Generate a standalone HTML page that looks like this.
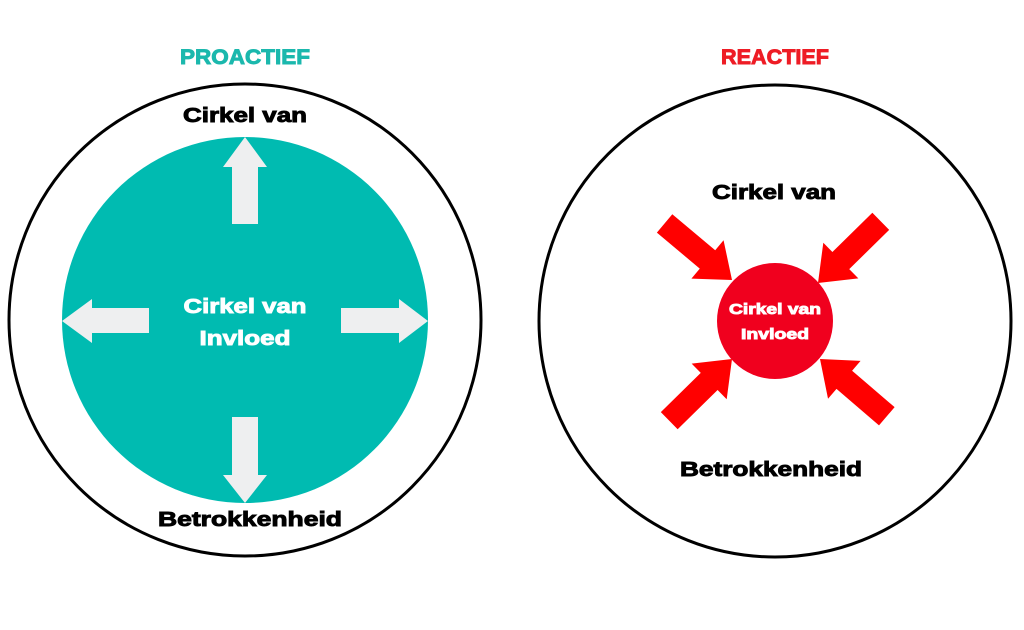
<!DOCTYPE html>
<html><head><meta charset="utf-8"><style>
html,body{margin:0;padding:0;background:#fff;}
svg{display:block;}
text{font-family:"Liberation Sans",sans-serif;font-weight:bold;text-anchor:middle;stroke-width:0.9;}
</style></head><body>
<svg width="1024" height="630" viewBox="0 0 1024 630" xmlns="http://www.w3.org/2000/svg">
<rect width="1024" height="630" fill="#fff"/>
<text x="245" y="64" font-size="21" fill="#1bb8ad" stroke="#1bb8ad" textLength="130" lengthAdjust="spacingAndGlyphs">PROACTIEF</text>
<text x="775" y="64" font-size="21" fill="#ee1c25" stroke="#ee1c25" textLength="108" lengthAdjust="spacingAndGlyphs">REACTIEF</text>
<circle cx="245" cy="320" r="236" fill="none" stroke="#000" stroke-width="3"/>
<circle cx="775" cy="321" r="236" fill="none" stroke="#000" stroke-width="3"/>
<circle cx="245" cy="320" r="183" fill="#00bbb1"/>
<g fill="#eeeff0">
<polygon points="245,137 267,167 258,167 258,224 232,224 232,167 223,167"/>
<polygon points="245,503 267,475 258,475 258,417 232,417 232,475 223,475"/>
<polygon points="62,321 92,299 92,308 149,308 149,333 92,333 92,343"/>
<polygon points="428,321 399,299 399,308 341,308 341,333 399,333 399,343"/>
</g>
<text x="245" y="313" font-size="20" fill="#fff" stroke="#fff" textLength="123" lengthAdjust="spacingAndGlyphs">Cirkel van</text>
<text x="245" y="345" font-size="20" fill="#fff" stroke="#fff" textLength="91" lengthAdjust="spacingAndGlyphs">Invloed</text>
<text x="245" y="122" font-size="20" fill="#000" stroke="#000" textLength="124" lengthAdjust="spacingAndGlyphs">Cirkel van</text>
<text x="250" y="526" font-size="20" fill="#000" stroke="#000" textLength="184" lengthAdjust="spacingAndGlyphs">Betrokkenheid</text>
<circle cx="775" cy="321" r="58" fill="#f0001e"/>
<g fill="#ff0000">
<polygon transform="translate(732,280) rotate(40)" points="0,0 -32,-25 -32,-12 -88,-12 -88,12 -32,12 -32,25"/>
<polygon transform="translate(818,283) rotate(135.5)" points="0,0 -32,-25 -32,-12 -88,-12 -88,12 -32,12 -32,25"/>
<polygon transform="translate(732,359) rotate(-44.5)" points="0,0 -32,-25 -32,-12 -88,-12 -88,12 -32,12 -32,25"/>
<polygon transform="translate(820,359) rotate(220.6)" points="0,0 -32,-25 -32,-12 -88,-12 -88,12 -32,12 -32,25"/>
</g>
<text x="775" y="314" font-size="15" fill="#fff" stroke="#fff" stroke-width="0.6" textLength="92" lengthAdjust="spacingAndGlyphs">Cirkel van</text>
<text x="775" y="339" font-size="15" fill="#fff" stroke="#fff" stroke-width="0.6" textLength="68" lengthAdjust="spacingAndGlyphs">Invloed</text>
<text x="774" y="199" font-size="20" fill="#000" stroke="#000" textLength="124" lengthAdjust="spacingAndGlyphs">Cirkel van</text>
<text x="771" y="476" font-size="20" fill="#000" stroke="#000" textLength="182" lengthAdjust="spacingAndGlyphs">Betrokkenheid</text>
</svg>
</body></html>
